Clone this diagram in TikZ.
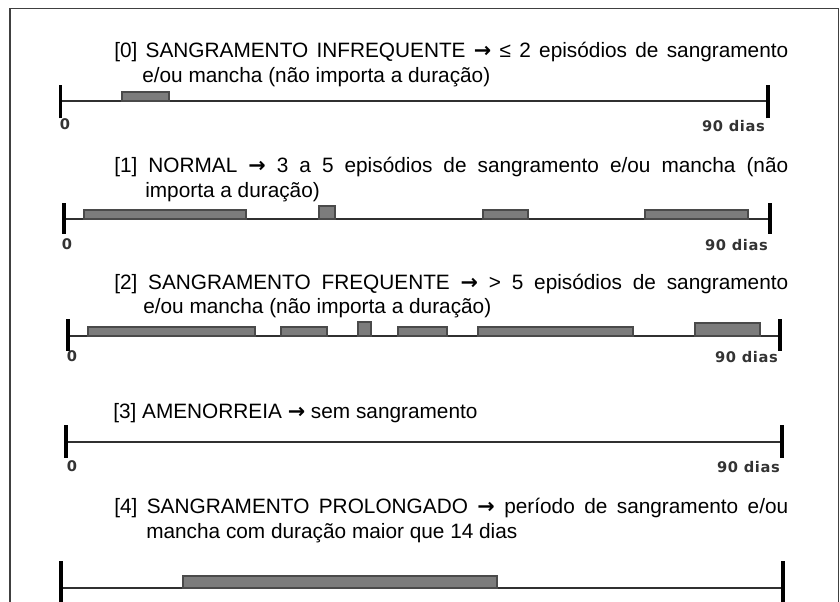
\documentclass[tikz,border=0pt]{standalone}
\usepackage{fontspec}
\setmainfont{Liberation Sans}
\newfontfamily\daysfont[LetterSpace=4]{DejaVu Sans}
\newfontfamily\arrowfont{DejaVu Sans}
\usetikzlibrary{positioning}
\definecolor{BarGray}{HTML}{7C7C7C}
\definecolor{BarEdge}{HTML}{4A4A4A}
\definecolor{AxisGray}{HTML}{303030}
\newcommand{\headline}[1]{\makebox[505.5pt][s]{#1}}
\newcommand{\goesto}{{\arrowfont\bfseries →}}
\begin{document}
\begin{tikzpicture}[x=0.75pt,y=-0.75pt,
  head/.style={anchor=base west,inner sep=0pt,font={\fontsize{15.6pt}{18pt}\selectfont}},
  days/.style={inner sep=0pt,font={\daysfont\bfseries\fontsize{11pt}{12pt}\selectfont},text=black!80},
  bar/.style={draw=BarEdge,fill=BarGray,line width=0.9pt},
  axis/.style={draw=AxisGray,line width=1.5pt},
  tickmark/.style={draw=black,line width=2.4pt},
]
\useasboundingbox (0,0) rectangle (840,602);
\draw[line width=1.2pt,draw=black!75] (10,610) -- (10,8.5) -- (838.5,8.5) -- (838.5,610);

\node[head] (h0a) at (114,58) {\headline{[0] SANGRAMENTO INFREQUENTE \goesto{} ≤ 2 episódios de sangramento}};
\node[head] (h0b) at (142,83) {e/ou mancha (não importa a duração)};
\coordinate (s0) at (60.5,101);
\coordinate (e0) at (768,101);
\draw[axis] (s0) -- (e0);
\draw[tickmark] ([yshift=-13]s0) -- ([yshift=12]s0);
\draw[tickmark] ([yshift=-13]e0) -- ([yshift=12]e0);
\draw[bar] (122,92) rectangle (169,101);
\node[days,anchor=base] (z0) at (65,130) {0};
\node[days,anchor=base east] (d0) at (765,132) {90 dias};

\node[head] (h1a) at (114,173) {\headline{[1] NORMAL \goesto{} 3 a 5 episódios de sangramento e/ou mancha (não}};
\node[head] (h1b) at (145,198) {importa a duração)};
\coordinate (s1) at (64,219);
\coordinate (e1) at (770,219);
\draw[axis] (s1) -- (e1);
\draw[tickmark] ([yshift=-11]s1) -- ([yshift=12]s1);
\draw[tickmark] ([yshift=-11]e1) -- ([yshift=12]e1);
\draw[bar] (84,210) rectangle (246,219);
\draw[bar] (319,206) rectangle (335,219);
\draw[bar] (483,210) rectangle (528,219);
\draw[bar] (645,210) rectangle (748,219);
\node[days,anchor=base] (z1) at (67,250) {0};
\node[days,anchor=base east] (d1) at (768,251) {90 dias};

\node[head] (h2a) at (114,290) {\headline{[2] SANGRAMENTO FREQUENTE \goesto{} > 5 episódios de sangramento}};
\node[head] (h2b) at (143,314) {e/ou mancha (não importa a duração)};
\coordinate (s2) at (68,336);
\coordinate (e2) at (780,336);
\draw[axis] (s2) -- (e2);
\draw[tickmark] ([yshift=-11]s2) -- ([yshift=13]s2);
\draw[tickmark] ([yshift=-11]e2) -- ([yshift=13]e2);
\draw[bar] (88,327) rectangle (255,336);
\draw[bar] (281,327) rectangle (327,336);
\draw[bar] (358,322) rectangle (371,336);
\draw[bar] (398,327) rectangle (447,336);
\draw[bar] (478,327) rectangle (633,336);
\draw[bar] (695,323) rectangle (760,336);
\node[days,anchor=base] (z2) at (72,362) {0};
\node[days,anchor=base east] (d2) at (778,363) {90 dias};

\node[head] (h3a) at (113,419) {[3] AMENORREIA \goesto{} sem sangramento};
\coordinate (s3) at (66,442);
\coordinate (e3) at (782,442);
\draw[axis] (s3) -- (e3);
\draw[tickmark] ([yshift=-12]s3) -- ([yshift=13]s3);
\draw[tickmark] ([yshift=-12]e3) -- ([yshift=13]e3);
\node[days,anchor=base] (z3) at (72,472) {0};
\node[days,anchor=base east] (d3) at (780,473) {90 dias};

\node[head] (h4a) at (114,514) {\headline{[4] SANGRAMENTO PROLONGADO \goesto{} período de sangramento e/ou}};
\node[head] (h4b) at (146,538) {mancha com duração maior que 14 dias};
\coordinate (s4) at (61,588);
\coordinate (e4) at (783,588);
\draw[axis] (s4) -- (e4);
\draw[tickmark] ([yshift=-11]s4) -- ([yshift=20]s4);
\draw[tickmark] ([yshift=-11]e4) -- ([yshift=20]e4);
\draw[bar] (183,576) rectangle (497,588);
\end{tikzpicture}
\end{document}
